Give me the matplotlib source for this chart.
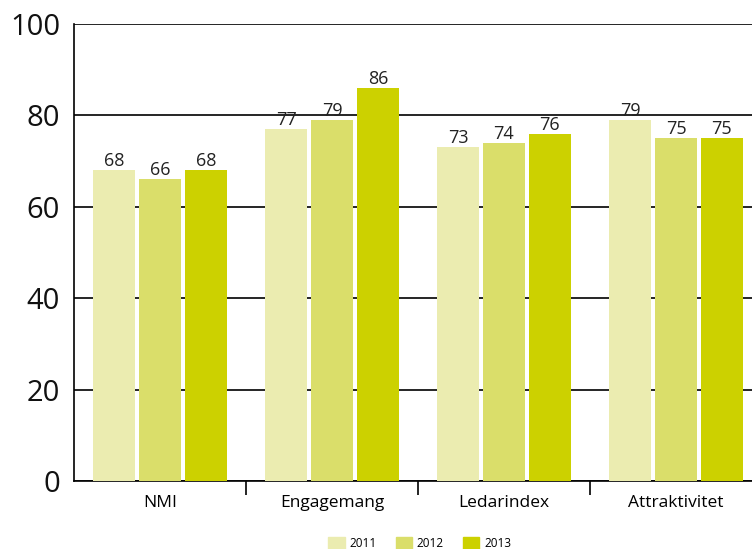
import numpy as np
import matplotlib.pyplot as plt
from matplotlib.patches import Patch

plt.rcParams['font.family'] = ['Open Sans', 'DejaVu Sans']

kategorije = ['NMI', 'Engagemang', 'Ledarindex', 'Attraktivitet']
godine = ['2011', '2012', '2013']
v2011 = [68, 77, 73, 79]
v2012 = [66, 79, 74, 75]
v2013 = [68, 86, 76, 75]
boje = ['#EBECB0', '#DADE6A', '#CCD100']

fig = plt.figure(figsize=(7.52, 5.49), dpi=100)
ax = fig.add_axes([74 / 752, 68 / 549, 688 / 752, 457 / 549])

x = np.arange(len(kategorije))
w = 0.245
korak = 0.267
for i, (vals, c) in enumerate(zip([v2011, v2012, v2013], boje)):
    b = ax.bar(x + (i - 1) * korak, vals, w, color=c, zorder=3)
    ax.bar_label(b, labels=[str(v) for v in vals], padding=0, fontsize=13, color='#222222')

ax.set_ylim(0, 100)
ax.set_xlim(-0.5, 3.5)
ax.set_yticks([0, 20, 40, 60, 80, 100])
ax.tick_params(axis='y', length=0, labelsize=21, pad=10, labelcolor='#111111')
ax.yaxis.grid(True, color='black', linewidth=1.2, zorder=0)
ax.set_xticks(x)
ax.set_xticklabels(kategorije, fontsize=12.5)
ax.set_xticks([0.5, 1.5, 2.5], minor=True)
ax.tick_params(axis='x', which='major', length=0, pad=10)
ax.tick_params(axis='x', which='minor', length=10, width=1.2, direction='out')
for s in ['top', 'right']:
    ax.spines[s].set_visible(False)
ax.spines['left'].set_linewidth(1.2)
ax.spines['bottom'].set_linewidth(1.2)

rucke = [Patch(color=c, label=g) for c, g in zip(boje, godine)]
fig.legend(handles=rucke, loc='lower center', bbox_to_anchor=(0.558, -0.022), ncol=3,
           frameon=False, fontsize=8.5, handlelength=1.4, handleheight=1.2,
           columnspacing=1.6, handletextpad=0.4)

plt.savefig('out.png', dpi=100)
